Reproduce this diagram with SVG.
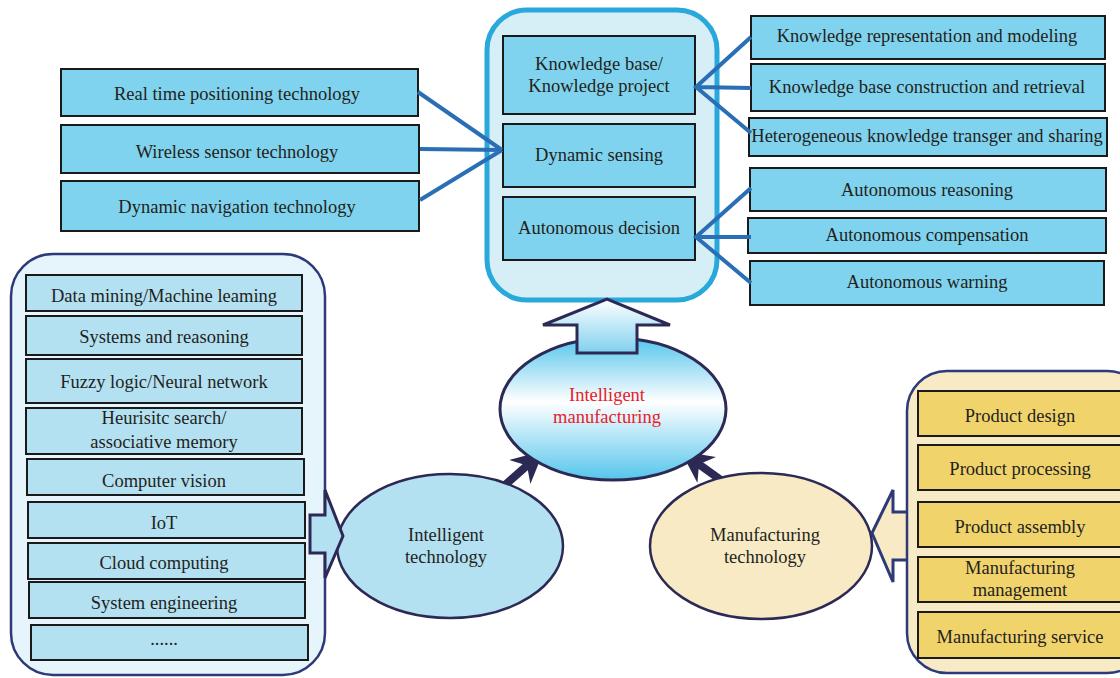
<svg xmlns="http://www.w3.org/2000/svg" width="1120" height="678" viewBox="0 0 1120 678">
<defs>
<style>
text{font-family:"Liberation Serif","Times New Roman",serif;font-size:18.5px;fill:#231f20;text-anchor:middle}
.bb{fill:#80d3ee;stroke:#1a1a1a;stroke-width:2}
.lb{fill:#b3e1f2;stroke:#1a1a1a;stroke-width:2}
.yb{fill:#f1d36c;stroke:#1a1a1a;stroke-width:2}
.con{stroke:#2a6fb5;stroke-width:4;fill:none}
.nv{stroke:#2c2a55;stroke-width:3}
</style>
<linearGradient id="gm" x1="0" y1="0" x2="0" y2="1">
<stop offset="0" stop-color="#55c5ec"/>
<stop offset="0.45" stop-color="#ffffff"/>
<stop offset="1" stop-color="#55c5ec"/>
</linearGradient>
<linearGradient id="ga" x1="0" y1="0" x2="0" y2="1">
<stop offset="0" stop-color="#ffffff"/>
<stop offset="1" stop-color="#7fd0ee"/>
</linearGradient>
<marker id="ah" viewBox="0 0 10 10" refX="8" refY="5" markerWidth="4" markerHeight="4" orient="auto" markerUnits="strokeWidth">
<path d="M0,0 L10,5 L0,10 L3,5 Z" fill="#2c2a55"/>
</marker>
</defs>

<g id="top-container">
<rect x="487" y="10" width="230" height="290" rx="40" fill="#d6eef6" stroke="#29a8dc" stroke-width="5"/>
</g>
<g id="kb"><rect class="bb" x="503" y="36" width="192" height="78"/><text x="599" y="70">Knowledge base/</text><text x="599" y="92">Knowledge project</text></g>
<g id="ds"><rect class="bb" x="503" y="124" width="192" height="63"/><text x="599" y="161">Dynamic sensing</text></g>
<g id="ad"><rect class="bb" x="503" y="197" width="192" height="63"/><text x="599" y="234">Autonomous decision</text></g>

<g id="rtp"><rect class="bb" x="61" y="69" width="357" height="47"/><text x="237" y="100">Real time positioning technology</text></g>
<g id="wst"><rect class="bb" x="61" y="125" width="358" height="48"/><text x="237" y="158">Wireless sensor technology</text></g>
<g id="dnt"><rect class="bb" x="61" y="181" width="358" height="50"/><text x="237" y="213">Dynamic navigation technology</text></g>

<g id="krm"><rect class="bb" x="751" y="16" width="354" height="43"/><text x="927" y="42">Knowledge representation and modeling</text></g>
<g id="kbc"><rect class="bb" x="751" y="64" width="354" height="47"/><text x="927" y="93">Knowledge base construction and retrieval</text></g>
<g id="hkt"><rect class="bb" x="749" y="118" width="358" height="38"/><text x="927" y="142">Heterogeneous knowledge transger and sharing</text></g>
<g id="ar"><rect class="bb" x="750" y="168" width="356" height="43"/><text x="927" y="196">Autonomous reasoning</text></g>
<g id="ac"><rect class="bb" x="748" y="218" width="358" height="35"/><text x="927" y="241">Autonomous compensation</text></g>
<g id="aw"><rect class="bb" x="750" y="261" width="354" height="44"/><text x="927" y="288">Autonomous warning</text></g>

<g id="connectors">
<path class="con" d="M418,92 L502,150 M420,149 L502,150 M420,200 L502,150"/>
<path class="con" d="M751,37 L696,87 L751,133 M696,87 L751,88"/>
<path class="con" d="M751,188 L696,237 L751,283 M696,237 L751,237"/>
<path d="M505,485 L539,455" stroke="#2c2a55" stroke-width="8" marker-end="url(#ah)"/>
<path d="M725,483 L686,455" stroke="#2c2a55" stroke-width="8" marker-end="url(#ah)"/>
</g>

<g id="left-container">
<rect x="11" y="254" width="314" height="421" rx="42" fill="#e6f4fb" stroke="#2d3a7a" stroke-width="2.5"/>
</g>
<g id="dm"><rect class="lb" x="26" y="275" width="276" height="36"/><text x="164" y="302">Data mining/Machine leaming</text></g>
<g id="sr"><rect class="lb" x="26" y="316" width="276" height="39"/><text x="164" y="343">Systems and reasoning</text></g>
<g id="fl"><rect class="lb" x="26" y="359" width="276" height="44"/><text x="164" y="388">Fuzzy logic/Neural network</text></g>
<g id="hs"><rect class="lb" x="26" y="408" width="276" height="46"/><text x="164" y="424">Heurisitc search/</text><text x="164" y="448">associative memory</text></g>
<g id="cv"><rect class="lb" x="27" y="459" width="277" height="36"/><text x="164" y="487">Computer vision</text></g>
<g id="iot"><rect class="lb" x="28" y="502" width="277" height="36"/><text x="164" y="529">IoT</text></g>
<g id="cc"><rect class="lb" x="28" y="543" width="277" height="36"/><text x="164" y="569">Cloud computing</text></g>
<g id="se"><rect class="lb" x="29" y="582" width="276" height="36"/><text x="164" y="609">System engineering</text></g>
<g id="etc"><rect class="lb" x="31" y="625" width="277" height="35"/><text x="164" y="645">......</text></g>

<g id="intelligent-technology">
<ellipse cx="450" cy="546" rx="113" ry="72" fill="#b3e1f2" stroke="#2c2a55" stroke-width="2.5"/>
<text x="446" y="541">Intelligent</text><text x="446" y="563">technology</text>
</g>

<g id="left-arrow">
<path d="M310,515 L325,515 L325,490 L343,536 L325,578 L325,553 L310,553 Z" fill="#b3e1f2" class="nv" stroke-linejoin="miter"/>
</g>

<g id="intelligent-manufacturing">
<ellipse cx="613" cy="409" rx="113" ry="71" fill="url(#gm)" stroke="#2c2a55" stroke-width="3"/>
<text x="607" y="401" style="fill:#e8202a">Intelligent</text><text x="607" y="423" style="fill:#e8202a">manufacturing</text>
</g>

<g id="up-arrow">
<path d="M577,353 L577,325 L543,325 L607,299 L670,325 L637,325 L637,353 Z" fill="url(#ga)" class="nv"/>
</g>

<g id="manufacturing-technology">
<ellipse cx="761" cy="546" rx="111" ry="73" fill="#f7eac4" stroke="#2c2a55" stroke-width="2.5"/>
<text x="765" y="541">Manufacturing</text><text x="765" y="563">technology</text>
</g>

<g id="right-arrow">
<path d="M910,512 L893,512 L893,490 L872,533 L893,582 L893,560 L910,560" fill="#f7eac4" stroke="#2d3a7a" stroke-width="3"/>
</g>

<g id="right-container">
<rect x="907" y="371" width="240" height="302" rx="40" fill="#f7eac4" stroke="#2d3a7a" stroke-width="2.5"/>
</g>
<g id="pd"><rect class="yb" x="918" y="391" width="205" height="45"/><text x="1020" y="422">Product design</text></g>
<g id="pp"><rect class="yb" x="918" y="445" width="205" height="45"/><text x="1020" y="475">Product processing</text></g>
<g id="pa"><rect class="yb" x="918" y="502" width="205" height="45"/><text x="1020" y="533">Product assembly</text></g>
<g id="mm"><rect class="yb" x="918" y="557" width="205" height="45"/><text x="1020" y="574">Manufacturing</text><text x="1020" y="596">management</text></g>
<g id="ms"><rect class="yb" x="918" y="612" width="205" height="46"/><text x="1020" y="643">Manufacturing service</text></g>
</svg>
